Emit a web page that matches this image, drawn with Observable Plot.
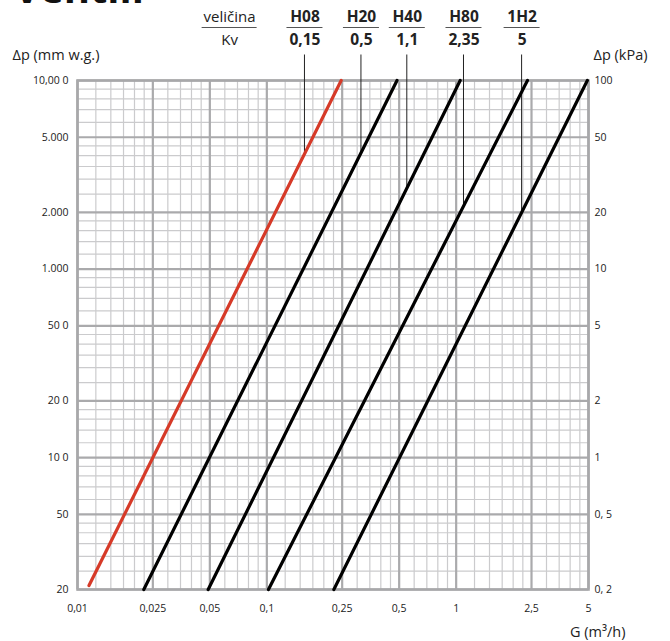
<!DOCTYPE html>
<html>
<head>
<meta charset="utf-8">
<script src="https://cdn.jsdelivr.net/npm/d3@7"></script>
<script src="https://cdn.jsdelivr.net/npm/@observablehq/plot@0.6"></script>
<style>
  html, body { margin: 0; padding: 0; background: #fff; }
  #wrap { position: relative; width: 670px; height: 641px; overflow: hidden; }
  #title { position: absolute; left: 14px; top: -40px; font: 700 40px 'Open Sans', sans-serif; color: #111; }
</style>
</head>
<body>
<div id="wrap"><div id="title">Ventili</div></div>
<script>
// ---- data ----
const series = ["H08", "H20", "H40", "H80", "1H2"];
const kvLabels = ["0,15", "0,5", "1,1", "2,35", "5"];
// line end points: G (m3/h) and Δp (kPa)
const gStart = [0.0115, 0.0224, 0.049, 0.102, 0.226];
const dpStart = [0.21, 0.2, 0.2, 0.2, 0.2];
const gEnd = [0.247, 0.487, 1.05, 2.38, 4.93];
const dpEnd = [100, 100, 100, 100, 100];
// callout positions (G) for each series label
const calloutG = [0.159, 0.316, 0.552, 1.10, 2.23];
const headerLabelG = 0.0636;

// axes
const xTicks = [0.01, 0.025, 0.05, 0.1, 0.25, 0.5, 1, 2.5, 5];
const xTickLabels = ["0,01", "0,025", "0,05", "0,1", "0,25", "0,5", "1", "2,5", "5"];
const yTicks = [100, 50, 20, 10, 5, 2, 1, 0.5, 0.2];
const yLeftLabels = ["10,00 0", "5.000", "2.000", "1.000", "50 0", "20 0", "10 0", "50", "20"];
const yRightLabels = ["100", "50", "20", "10", "5", "2", "1", "0, 5", "0, 2"];
const xMinorSteps = [1.25, 1.5, 1.75, 2, 2.25, 3, 3.5, 4, 4.5, 6, 7, 8, 9];
const yMinorSteps = [1.2, 1.4, 1.6, 1.8, 2.5, 3, 3.5, 4, 4.5, 6, 7, 8, 9];
const xDecades = [0.01, 0.1, 1];
const yDecades = [0.1, 1, 10];

// ---- build tables ----
const lineRows = series.flatMap((s, i) => [
  {series: s, g: gStart[i], dp: dpStart[i]},
  {series: s, g: gEnd[i], dp: dpEnd[i]}
]);
function dpOnLine(i, g) {
  const slope = Math.log10(dpEnd[i] / dpStart[i]) / Math.log10(gEnd[i] / gStart[i]);
  return dpStart[i] * Math.pow(10, slope * Math.log10(g / gStart[i]));
}
const callouts = series.map((s, i) => ({series: s, g: calloutG[i], dp: dpOnLine(i, calloutG[i])}));
const seriesHeaders = series.map((s, i) => ({name: s, kv: kvLabels[i], g: calloutG[i]}));
const nameHeader = [{name: "veličina", kv: "Kv", g: headerLabelG}];
const allHeaders = nameHeader.concat(seriesHeaders);

const xMinor = xDecades.flatMap(d => xMinorSteps.map(m => d * m)).filter(v => v > 0.01 && v < 5 && !xTicks.includes(+v.toPrecision(6)));
const yMinor = yDecades.flatMap(d => yMinorSteps.map(m => d * m)).filter(v => v > 0.2 && v < 100);

// custom mark: short underlines below the header names, and callout leaders
function headerDecor(index, scales, values, dimensions) {
  const g = d3.create("svg:g");
  allHeaders.forEach((h, i) => {
    const cx = scales.x(h.g);
    const hw = i === 0 ? 27.5 : 18;
    g.append("line")
      .attr("x1", cx - hw).attr("x2", cx + hw)
      .attr("y1", dimensions.marginTop - 52.5).attr("y2", dimensions.marginTop - 52.5)
      .attr("stroke", "#555").attr("stroke-width", 1);
  });
  callouts.forEach(c => {
    const cx = scales.x(c.g);
    g.append("line")
      .attr("x1", cx).attr("x2", cx)
      .attr("y1", scales.y(100) - 25.5).attr("y2", scales.y(c.dp))
      .attr("stroke", "#222").attr("stroke-width", 1);
  });
  return g.node();
}

const chart = Plot.plot({
  width: 670,
  height: 641,
  marginLeft: 77,
  marginRight: 82,
  marginTop: 80,
  marginBottom: 52,
  style: {fontFamily: "'Open Sans', sans-serif", background: "white", color: "#222", overflow: "visible"},
  x: {type: "log", domain: [0.01, 5], axis: null},
  y: {type: "log", domain: [0.2, 100], axis: null},
  color: {domain: series, range: ["#d63a28", "#000", "#000", "#000", "#000"]},
  marks: [
    Plot.ruleX(xMinor, {stroke: "#cbcbcd", strokeWidth: 1.2}),
    Plot.ruleY(yMinor, {stroke: "#cbcbcd", strokeWidth: 1.2}),
    Plot.ruleX(xTicks, {stroke: "#aaaaac", strokeWidth: 2.2}),
    Plot.ruleY(yTicks, {stroke: "#aaaaac", strokeWidth: 2.2}),
    Plot.frame({stroke: "#a8a8aa", strokeWidth: 2.6}),
    headerDecor,
    Plot.line(lineRows, {x: "g", y: "dp", z: "series", stroke: "series", strokeWidth: 3.2}),
    // tick labels
    Plot.text(xTicks, {x: d => d, frameAnchor: "bottom", lineAnchor: "middle", dy: 19, text: (d, i) => xTickLabels[i], fontSize: 10.5}),
    Plot.text(yTicks, {y: d => d, frameAnchor: "left", lineAnchor: "middle", dx: -9, textAnchor: "end", text: (d, i) => yLeftLabels[i], fontSize: 10.5}),
    Plot.text(yTicks, {y: d => d, frameAnchor: "right", lineAnchor: "middle", dx: 6, textAnchor: "start", text: (d, i) => yRightLabels[i], fontSize: 10.5}),
    // axis titles
    Plot.text(["Δp (mm w.g.)"], {frameAnchor: "top-left", lineAnchor: "middle", dx: -65, dy: -25.5, textAnchor: "start", text: d => d, fontSize: 14.5}),
    Plot.text(["Δp (kPa)"], {frameAnchor: "top-right", lineAnchor: "middle", dx: 5, dy: -25.5, textAnchor: "start", text: d => d, fontSize: 14.5}),
    Plot.text(["G (m³/h)"], {frameAnchor: "bottom-right", lineAnchor: "middle", dx: 37, dy: 43, textAnchor: "end", text: d => d, fontSize: 14.5}),
    // header labels
    Plot.text(nameHeader, {x: "g", frameAnchor: "top", lineAnchor: "middle", dy: -63.5, text: "name", fontSize: 15}),
    Plot.text(nameHeader, {x: "g", frameAnchor: "top", lineAnchor: "middle", dy: -40.5, text: "kv", fontSize: 15}),
    Plot.text(seriesHeaders, {x: "g", frameAnchor: "top", lineAnchor: "middle", dy: -63.5, text: "name", fontSize: 15.5, fontWeight: "bold"}),
    Plot.text(seriesHeaders, {x: "g", frameAnchor: "top", lineAnchor: "middle", dy: -40.5, text: "kv", fontSize: 15.5, fontWeight: "bold"})
  ]
});
document.getElementById("wrap").appendChild(chart);
</script>
</body>
</html>
